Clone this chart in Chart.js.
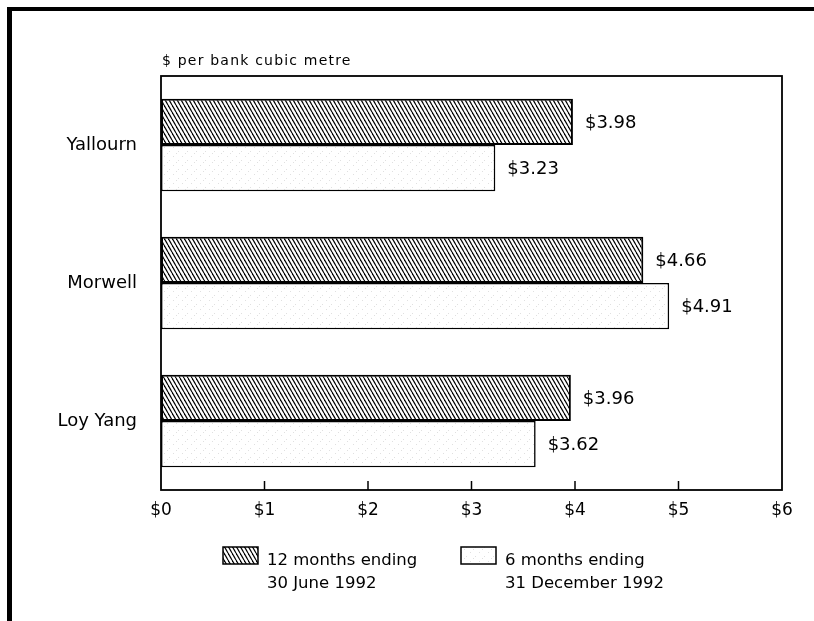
<!DOCTYPE html>
<html>
<head>
<meta charset="utf-8">
<script src="https://cdn.jsdelivr.net/npm/chart.js@4/dist/chart.umd.min.js"></script>
<style>
  html, body { margin: 0; padding: 0; background: #fff; }
  #wrap { position: relative; width: 814px; height: 621px; overflow: hidden; }
  #frame { position: absolute; left: 7px; top: 7px; right: -10px; bottom: -10px;
           border-top: 4px solid #000; border-left: 5px solid #000; pointer-events: none; }
  canvas { position: absolute; left: 0; top: 0; }
</style>
</head>
<body>
<div id="wrap">
  <canvas id="c" width="814" height="621"></canvas>
  <div id="frame"></div>
</div>
<script>
// Mine sites and cost per bank cubic metre ($)
const categories = ['Yallourn', 'Morwell', 'Loy Yang'];
const seriesNames = [['12 months ending', '30 June 1992'], ['6 months ending', '31 December 1992']];
const costTo30June1992 = [3.98, 4.66, 3.96];
const costTo31Dec1992 = [3.23, 4.91, 3.62];
const axisTicks = [0, 1, 2, 3, 4, 5, 6];
const unitLabel = '$ per bank cubic metre';

const FONT = '"DejaVu Sans", "Liberation Sans", sans-serif';

// Diagonal hatch fill
function hatchPattern(ctx) {
  const w = 4, h = 7;
  const t = document.createElement('canvas');
  t.width = w; t.height = h;
  const g = t.getContext('2d');
  g.fillStyle = '#fff';
  g.fillRect(0, 0, w, h);
  g.strokeStyle = '#000';
  g.lineWidth = 1.2;
  for (let k = -1; k <= 1; k++) {
    g.beginPath();
    g.moveTo(k * w, 0);
    g.lineTo(k * w + w, h);
    g.stroke();
  }
  return ctx.createPattern(t, 'repeat');
}

// Light stipple fill
function stipplePattern(ctx) {
  const t = document.createElement('canvas');
  t.width = 9; t.height = 9;
  const g = t.getContext('2d');
  g.fillStyle = '#fff';
  g.fillRect(0, 0, 9, 9);
  g.fillStyle = 'rgba(0,0,0,0.12)';
  g.fillRect(2, 3, 1, 1);
  g.fillRect(7, 7, 1, 1);
  g.fillRect(5, 0, 1, 1);
  return ctx.createPattern(t, 'repeat');
}

const canvas = document.getElementById('c');
const ctx0 = canvas.getContext('2d');
const hatch = hatchPattern(ctx0);
const stipple = stipplePattern(ctx0);
const fills = [hatch, stipple];

const money = v => '$' + v;

// Plot frame, inward ticks, unit label, value labels and legend
const decorations = {
  id: 'decorations',
  afterDatasetsDraw(chart) {
    const { ctx, chartArea: a, scales } = chart;
    ctx.save();

    // frame around the plot area
    ctx.strokeStyle = '#000';
    ctx.lineWidth = 1.8;
    ctx.strokeRect(a.left, a.top, a.right - a.left, a.bottom - a.top);

    // inward tick marks on the bottom edge
    ctx.lineWidth = 1.5;
    axisTicks.forEach(v => {
      if (v === axisTicks[0] || v === axisTicks[axisTicks.length - 1]) return;
      const x = scales.x.getPixelForValue(v);
      ctx.beginPath();
      ctx.moveTo(x, a.bottom);
      ctx.lineTo(x, a.bottom - 9);
      ctx.stroke();
    });

    // unit label above the plot
    ctx.fillStyle = '#000';
    ctx.font = '14px ' + FONT;
    ctx.letterSpacing = '1.2px';
    ctx.textBaseline = 'alphabetic';
    ctx.textAlign = 'left';
    ctx.fillText(unitLabel, a.left + 1, a.top - 11);
    ctx.letterSpacing = '0px';

    // value labels at the end of each bar
    ctx.font = '18px ' + FONT;
    ctx.textBaseline = 'middle';
    chart.data.datasets.forEach((ds, di) => {
      const meta = chart.getDatasetMeta(di);
      meta.data.forEach((bar, i) => {
        ctx.fillText('$' + ds.data[i].toFixed(2), bar.x + 12, bar.y + 1);
      });
    });

    // legend
    const items = [{ x: 223 }, { x: 461 }];
    const boxW = 35, boxH = 17, boxTop = 547;
    ctx.font = '16.5px ' + FONT;
    ctx.textBaseline = 'alphabetic';
    items.forEach((it, i) => {
      ctx.fillStyle = fills[i];
      ctx.fillRect(it.x, boxTop, boxW, boxH);
      ctx.lineWidth = 1.5;
      ctx.strokeStyle = '#000';
      ctx.strokeRect(it.x, boxTop, boxW, boxH);
      ctx.fillStyle = '#000';
      seriesNames[i].forEach((line, j) => {
        ctx.fillText(line, it.x + boxW + 9, 565 + j * 23);
      });
    });
    ctx.restore();
  }
};

new Chart(canvas, {
  type: 'bar',
  data: {
    labels: categories,
    datasets: [
      { label: seriesNames[0].join(' '), data: costTo30June1992, backgroundColor: hatch,
        borderColor: '#000', borderWidth: 2, borderSkipped: false },
      { label: seriesNames[1].join(' '), data: costTo31Dec1992, backgroundColor: stipple,
        borderColor: '#000', borderWidth: 1.6, borderSkipped: false }
    ]
  },
  options: {
    indexAxis: 'y',
    responsive: false,
    animation: false,
    devicePixelRatio: 1,
    layout: { padding: { top: 76, right: 32, left: 0, bottom: 0 } },
    datasets: { bar: { categoryPercentage: 0.67, barPercentage: 1.0 } },
    plugins: { legend: { display: false }, tooltip: { enabled: false }, title: { display: false } },
    scales: {
      x: {
        min: axisTicks[0],
        max: axisTicks[axisTicks.length - 1],
        afterBuildTicks(scale) { scale.ticks = axisTicks.map(v => ({ value: v })); },
        afterFit(scale) { scale.height = 131; },
        grid: { display: false, drawTicks: false },
        border: { display: false },
        ticks: { callback: money, color: '#000', padding: 10, maxRotation: 0,
                 font: { family: FONT, size: 17 } }
      },
      y: {
        afterFit(scale) { scale.width = 161; },
        grid: { display: false, drawTicks: false },
        border: { display: false },
        ticks: { color: '#000', padding: 24, font: { family: FONT, size: 18 } }
      }
    }
  },
  plugins: [decorations]
});
</script>
</body>
</html>
